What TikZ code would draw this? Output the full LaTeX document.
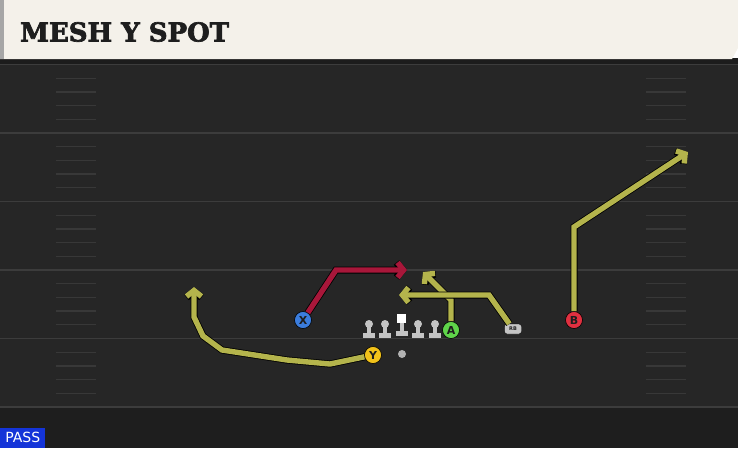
\documentclass[tikz,border=0pt]{standalone}
\usepackage{fontspec}
\setsansfont{DejaVu Sans}
\newfontfamily\titlefont[FakeBold=2.6]{DejaVu Serif}
\usepackage{xcolor}
\definecolor{field}{HTML}{262626}
\definecolor{fieldedge}{HTML}{1C1C1C}
\definecolor{yard}{HTML}{3C3C3C}
\definecolor{hash}{HTML}{383838}
\definecolor{header}{HTML}{F4F1EA}
\definecolor{ink}{HTML}{1E1E1E}
\definecolor{rt}{HTML}{B4B44C}
\definecolor{rtred}{HTML}{A8173A}
\definecolor{xblue}{HTML}{3B7DDD}
\definecolor{yyel}{HTML}{F2C21A}
\definecolor{agreen}{HTML}{5FD44A}
\definecolor{bred}{HTML}{E03040}
\definecolor{lman}{HTML}{C4C4C4}
\definecolor{passblue}{HTML}{1434D8}
\usetikzlibrary{arrows.meta, positioning, calc}

\tikzset{
    route/.style={line width=5.4pt, draw=rt, line join=miter,
        -{Straight Barb[length=6pt, width=15pt]},
        preaction={draw=black, line width=7pt}},
    hot/.style={route, draw=rtred},
    player/.style={circle, draw=black, line width=0.6pt, minimum size=17pt,
        inner sep=0pt, font=\sffamily\bfseries\fontsize{11}{11}\selectfont, text=ink},
}

\begin{document}
\begin{tikzpicture}[x=1pt, y=-1pt]
    \useasboundingbox (0,0) rectangle (738,448);

    % Field and header
    \fill[field] (0,58) rectangle (738,448);
    \fill[fieldedge] (0,58) rectangle (738,64);
    \fill[fieldedge!80!field] (0,408) rectangle (738,448);
    \fill[header] (0,0) -- (738,0) -- (738,48) -- (732,59) -- (0,59) -- cycle;
    \fill[gray!70] (0,0) rectangle (4,59);
    \node[anchor=west, inner sep=0pt, text=ink, font=\titlefont\bfseries\fontsize{26}{26}\selectfont] (title) at (20,32) {MESH Y SPOT};

    % Yard lines and hash marks
    \foreach \y in {64.5,133,201.5,270,338.5,407}
        \draw[yard, line width=1.6pt] (0,\y) -- (738,\y);
    \foreach \y in {64.5,133,201.5,270,338.5}
        \foreach \k in {1,2,3,4} {
            \draw[hash, line width=1.3pt] (56,\y+\k*13.7) -- (96,\y+\k*13.7);
            \draw[hash, line width=1.3pt] (646,\y+\k*13.7) -- (686,\y+\k*13.7);
        }

    % Line
    \foreach \x in {369,385,418,435} {
        \fill[lman] (\x,324) circle (4);
        \fill[lman] (\x-2,326) rectangle (\x+2,335);
        \fill[lman] (\x-6,333) rectangle (\x+6,338);
    }
    \fill[white] (397,314) rectangle (406,323);
    \fill[lman] (399.5,323) rectangle (403.5,332);
    \fill[lman] (395.5,331) rectangle (407.5,336);
    \node[circle, fill=gray!60, minimum size=8pt, inner sep=0pt] (ball) at (402,354) {};

    % Players
    \node[player, fill=xblue] (X) at (303,320) {X};
    \node[player, fill=yyel] (Y) at (373,355) {Y};
    \node[player, fill=agreen] (A) at (451,330) {A};
    \node[player, fill=bred] (B) at (574,320) {B};
    \node[draw=black, fill=lman, rounded corners=2.5pt, minimum width=17pt, minimum height=10pt,
        inner sep=0pt, font=\sffamily\bfseries\fontsize{5}{5}\selectfont, text=ink] (RB) at (513,329) {RB};

    % Route points
    \coordinate (x1) at (336,270);
    \coordinate (x2) at (407,270);
    \coordinate (a1) at (451,300);
    \coordinate (a2) at (423,272);
    \coordinate (r1) at (489,295);
    \coordinate (r2) at (399,295);
    \coordinate (b1) at (574,227);
    \coordinate (b2) at (688,152);
    \coordinate (y1) at (330,364);
    \coordinate (y2) at (287,360);
    \coordinate (y3) at (222,350);
    \coordinate (y4) at (203,336);
    \coordinate (y5) at (194,317);
    \coordinate (y6) at (194,287);

    % Routes
    \draw[hot] (X) -- (x1) -- (x2);
    \draw[route] (A) -- (a1) -- (a2);
    \draw[route] (RB) -- (r1) -- (r2);
    \draw[route] (B) -- (b1) -- (b2);
    \draw[route] (Y) -- (y1) -- (y2) -- (y3) -- (y4) -- (y5) -- (y6);

    % Play type
    \node[anchor=south west, fill=passblue, text=white, inner sep=0pt, minimum width=45pt, minimum height=20pt,
        font=\sffamily\fontsize{14}{14}\selectfont] (pass) at (0,448) {PASS};
\end{tikzpicture}
\end{document}
